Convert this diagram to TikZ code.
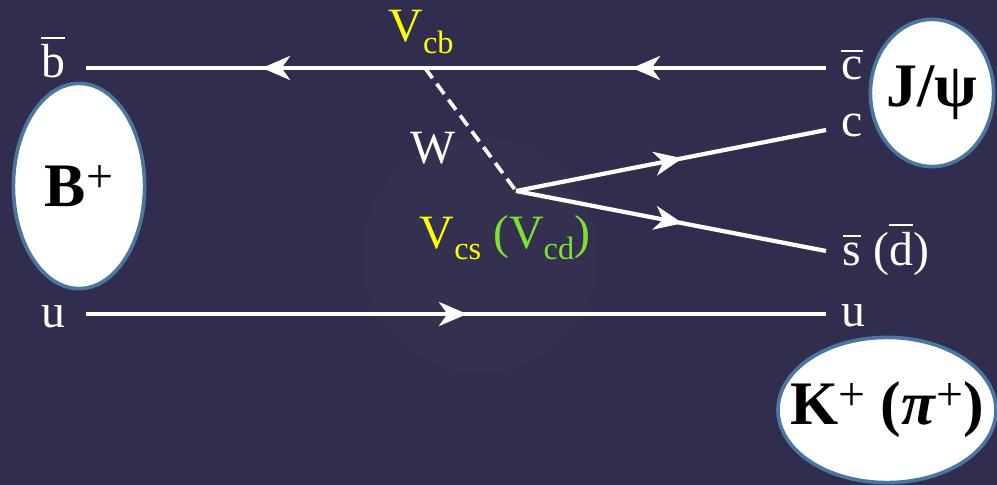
\documentclass[tikz,border=0pt]{standalone}
\usepackage{fontspec}
\setmainfont{Liberation Serif}
\usepackage{tikz}
\usetikzlibrary{arrows.meta, positioning, shapes.geometric, decorations.markings}
\definecolor{slidebg}{RGB}{48, 45, 78}
\definecolor{hadronedge}{RGB}{74, 118, 160}
\definecolor{ckmyellow}{RGB}{255, 255, 0}
\definecolor{ckmgreen}{RGB}{128, 224, 48}
\newcommand{\qbar}[1]{\leavevmode\setbox0\hbox{#1}\rlap{\rule[\dimexpr\ht0+4pt\relax]{\wd0}{1.6pt}}\box0\relax}
\newcommand{\ckmsub}[1]{\raisebox{-8pt}{\fontsize{23}{23}\selectfont #1}}
\newcommand{\hadsup}[1]{\raisebox{10pt}{\fontsize{34}{34}\selectfont\mdseries #1}}
\newcommand{\hadname}[1]{\makebox[0pt]{#1}}

\begin{document}
\begin{tikzpicture}[x=0.025cm, y=-0.025cm, >=Stealth,
    quark/.style={white, line width=3pt},
    flow/.style={postaction={decorate}, decoration={markings,
        mark=at position #1 with {\arrow{Stealth[length=20pt, width=17pt, inset=6pt]}}}},
    qlabel/.style={text=white, font=\fontsize{34}{36}\selectfont, inner sep=0pt, anchor=base},
    hadron/.style={ellipse, draw=hadronedge, line width=2.6pt, fill=white, inner sep=0pt,
        font=\fontsize{44}{46}\selectfont\bfseries}]
    \fill[slidebg] (0,0) rectangle (997,485);
    \useasboundingbox (0,0) rectangle (997,485);
    \fill[white, opacity=0.015] (480,255) circle (118);

    \coordinate (tR) at (826,68);
    \coordinate (tL) at (86,68);
    \coordinate (vcb) at (425,68);
    \coordinate (vcs) at (516,191);
    \coordinate (cR) at (826,130);
    \coordinate (sR) at (826,251);
    \coordinate (uL) at (86,314);
    \coordinate (uR) at (826,314);

    \node[qlabel] (bbar) at (53,78) {\qbar{b}};
    \node[qlabel] (cbar) at (852,80) {\qbar{c}};
    \node[qlabel] (cq) at (852,137) {c};
    \node[qlabel] (sbar) at (886,265) {\qbar{s} (\qbar{d})};
    \node[qlabel] (uleft) at (53,327) {u};
    \node[qlabel] (uright) at (853,326) {u};
    \node[qlabel] (wlab) at (433,163) {W};
    \node[qlabel, text=ckmyellow] (vcblab) at (421,42) {V\ckmsub{cb}};
    \node[qlabel] (vcslab) at (505,248) {\textcolor{ckmyellow}{V\ckmsub{cs}} \textcolor{ckmgreen}{(V\ckmsub{cd})}};

    \node[hadron, minimum width=3.28cm, minimum height=5.13cm] (bmeson) at (79,186) {\hadname{B\hadsup{+}}};
    \node[hadron, minimum width=3.08cm, minimum height=3.68cm] (jpsi) at (932,93) {\hadname{J/ψ}};
    \node[hadron, minimum width=5.45cm, minimum height=3.63cm] (kaon) at (887,410) {\hadname{K\hadsup{+} (\textit{π}\hadsup{+})}};

    \draw[quark, flow=0.484] (tR) -- (vcb);
    \draw[quark, flow=0.481] (vcb) -- (tL);
    \draw[quark, line width=2.6pt, dash pattern=on 9pt off 5pt] (vcb) -- (vcs);
    \draw[quark, flow=0.537] (vcs) -- (cR);
    \draw[quark, flow=0.537] (vcs) -- (sR);
    \draw[quark, flow=0.515] (uL) -- (uR);
\end{tikzpicture}
\end{document}
